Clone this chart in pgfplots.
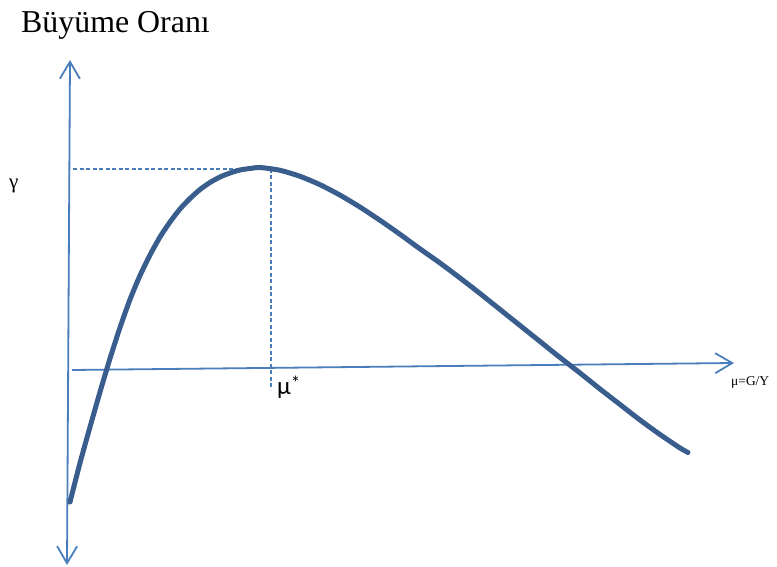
\documentclass[border=0pt]{standalone}
\usepackage{pgfplots}
\pgfplotsset{compat=1.18}
\usepackage{fontspec}
\setmainfont{Liberation Serif}
\newfontfamily\carlito{Carlito}
\usetikzlibrary{arrows.meta}
\definecolor{axblue}{HTML}{4A7EBB}
\definecolor{curveblue}{HTML}{395E8E}
\begin{document}
\begin{tikzpicture}
\begin{axis}[
  scale only axis, width=777bp, height=566bp,
  xmin=0, xmax=777, ymin=0, ymax=566,
  axis line style={draw=none}, ticks=none, clip=false,
]
\path (axis cs:0,0) rectangle (axis cs:777,566);
% axes
\addplot[axblue, line width=1.8bp, {Straight Barb[length=17bp,width=20bp]}-{Straight Barb[length=17bp,width=20bp]}] coordinates {(67,1) (70,506)};
\addplot[axblue, line width=1.8bp, -{Straight Barb[length=17bp,width=20bp]}] coordinates {(72,196) (734,203)};
% dashed guides
\addplot[axblue, line width=1.6bp, dash pattern=on 4bp off 2.5bp] coordinates {(73,397) (271,397)};
\addplot[axblue, line width=1.6bp, dash pattern=on 4bp off 2.5bp] coordinates {(271,397) (271,176)};
% curve
\addplot[curveblue, line width=5bp, smooth, tension=0.4, line cap=round] coordinates {
(70,64) (80,103) (90,139) (100,174) (110,207.5) (120,238.5) (130,266.5)
(140,290.5) (150,311) (160,329) (170,344) (180,357) (190,367.5) (200,376.5)
(210,383.5) (220,389) (230,393) (240,396) (250,397.5) (260,398.5) (280,395.7)
(300,389.7) (320,381.3) (340,370.9) (360,358.9) (380,345.7) (400,331.7)
(420,317.1) (440,303) (460,288) (480,272.5) (500,256.5) (520,240.5)
(540,224.5) (560,208.5) (580,193) (600,177) (620,161.5) (640,146)
(660,131.5) (680,118) (688,113.5)};
% labels
\node[anchor=base west, inner sep=0pt, font=\fontsize{32}{32}\selectfont] at (axis cs:21,533) {Büyüme Oranı};
\node[anchor=base west, inner sep=0pt, font=\fontsize{21}{21}\selectfont] at (axis cs:9,377) {γ};
\node[anchor=base west, inner sep=0pt, font=\carlito\fontsize{25}{25}\selectfont] at (axis cs:277,171) {μ\raisebox{0.5ex}{\fontsize{19}{19}\selectfont *}};
\node[anchor=base west, inner sep=0pt, font=\fontsize{13.5}{13.5}\selectfont] at (axis cs:731,180) {μ=G/Y};
\end{axis}
\end{tikzpicture}
\end{document}
